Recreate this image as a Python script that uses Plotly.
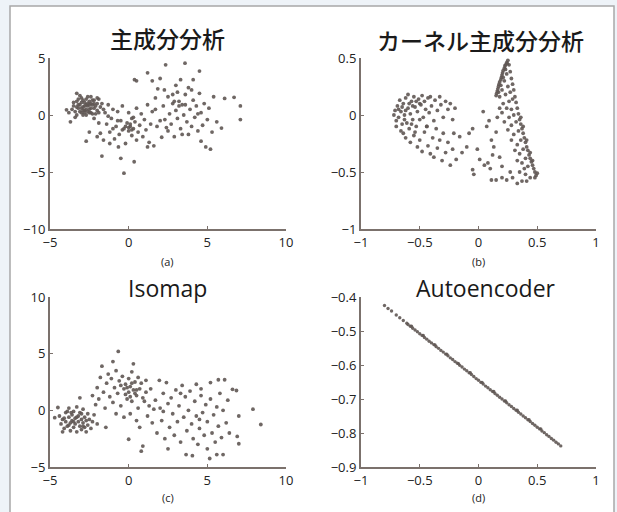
import plotly.graph_objects as go

W, H = 617, 512

# ---------------- data ----------------
titles = ["主成分分析", "カーネル主成分分析", "Isomap", "Autoencoder"]
sub_labels = ["(a)", "(b)", "(c)", "(d)"]

pca_points = [
    (-3.5,0.8),(-3.4,0.3),(-3.3,1.2),(-3.2,0.6),(-3.1,0.9),(-3.0,1.5),(-3.0,0.2),(-2.9,0.7),(-2.8,1.1),(-2.8,0.4),
    (-2.7,1.4),(-2.7,0.0),(-2.6,0.8),(-2.5,1.2),(-2.5,0.5),(-2.4,1.6),(-2.4,0.2),(-2.3,0.9),(-2.2,1.3),(-2.2,0.6),
    (-2.1,0.1),(-2.0,1.0),(-2.0,0.4),(-1.9,1.4),(-1.8,0.7),(-3.6,0.5),(-3.5,1.1),(-3.3,0.0),(-3.2,1.4),(-3.1,0.3),
    (-3.0,1.1),(-2.9,0.0),(-2.9,1.3),(-2.8,0.8),(-2.7,0.5),(-2.6,1.6),(-2.6,0.3),(-2.5,0.9),(-2.4,0.6),(-2.3,1.3),
    (-2.3,0.1),(-2.1,0.8),(-2.0,1.5),(-1.9,0.2),(-1.7,1.0),(-3.4,-0.2),(-3.8,0.2),(-3.1,1.7),(-2.2,-0.3),(-1.6,0.5),
    (-3.3,0.7),(-3.0,0.6),(-2.8,0.2),(-2.6,1.0),(-2.4,1.0),(-2.9,0.4),(-3.2,0.9),(-2.5,0.2),(-2.7,0.9),(-2.2,1.0),
    (-1.5,0.2),(-1.4,-0.8),(-1.3,0.9),(-1.2,-1.5),(-1.1,-0.3),(-1.0,0.5),(-0.9,-2.1),(-0.8,-1.0),(-0.7,0.3),(-0.6,-1.7),
    (-0.5,-0.5),(-0.4,0.8),(-0.3,-1.2),(-0.2,-2.5),(-0.1,-0.7),(0.0,-1.4),(0.0,0.2),(0.1,-1.0),(0.2,-1.8),(0.2,-0.3),
    (0.3,-1.2),(0.4,-0.6),(0.5,-2.2),(0.5,0.6),(0.6,-1.5),(0.7,-0.9),(0.8,0.1),(0.9,-1.9),(1.0,-0.4),(1.1,-1.3),
    (1.2,0.9),(1.3,-2.4),(1.4,-0.8),(1.5,0.3),(-1.8,-1.6),(-1.6,-2.2),(-2.0,-1.9),(-2.5,-1.5),(-2.7,-2.3),(-1.7,-3.6),
    (-1.2,-2.5),(-0.65,-2.8),(-0.5,-3.8),(-0.3,-5.1),(0.35,-4.1),(1.2,-2.8),(1.6,-2.7),(-0.2,-1.0),(0.1,-0.8),(-0.4,-1.3),
    (0.3,-0.2),(-1.0,-1.2),(-0.7,-0.5),(-3.7,-0.6),(-3.95,0.45),(-3.3,1.9),(-1.9,-0.7),(-1.3,-0.1),(0.0,-1.1),(0.2,-1.3),
    (1.7,1.5),(1.85,2.3),(2.0,-0.5),(2.1,-1.95),(2.2,0.8),(2.27,2.2),(2.35,4.4),(2.4,-1.1),(2.5,1.6),(2.6,0.1),
    (2.7,-0.8),(2.8,1.0),(2.9,-1.9),(3.0,2.6),(3.0,0.4),(3.1,-0.3),(3.2,1.2),(3.3,3.1),(3.3,-1.2),(3.4,-1.7),
    (3.4,0.9),(3.5,0.0),(3.58,4.55),(3.6,1.8),(3.7,-0.6),(3.8,-1.7),(3.8,2.4),(3.9,0.5),(4.0,2.2),(4.0,-1.0),
    (4.1,3.1),(4.1,1.3),(4.2,-0.2),(4.3,0.8),(4.4,-1.4),(4.5,3.85),(4.5,1.9),(4.6,-2.3),(4.6,0.2),(4.7,-0.9),
    (4.8,1.0),(4.9,-2.8),(5.0,-0.4),(5.1,0.6),(5.2,-3.0),(5.3,-1.5),(5.4,1.6),(5.6,-0.6),(5.9,-1.15),(6.1,1.45),
    (6.7,1.55),(7.1,0.8),(7.1,-0.4),(0.37,3.1),(0.5,3.0),(1.2,3.7),(1.5,3.0),(2.0,3.2),(2.8,1.8),(2.3,-0.4),
    (1.8,-1.0),(1.7,0.5),(3.2,0.8),(2.9,1.2),(3.6,0.9),(4.4,0.1),(3.1,2.0),(2.5,-1.4),
]

kpca_points = [
    (-0.72,0.0),(-0.71,0.04),(-0.70,-0.05),(-0.69,0.08),(-0.68,-0.02),(-0.67,0.13),(-0.66,0.03),(-0.65,-0.08),(-0.64,0.1),(-0.63,0.0),
    (-0.62,0.15),(-0.61,-0.07),(-0.60,0.06),(-0.59,-0.12),(-0.58,0.01),(-0.57,0.12),(-0.56,-0.04),(-0.55,0.16),(-0.54,0.07),(-0.53,-0.1),
    (-0.52,0.03),(-0.51,0.14),(-0.50,-0.04),(-0.49,0.09),(-0.48,0.17),(-0.47,-0.02),(-0.46,0.12),(-0.45,0.05),(-0.44,-0.1),(-0.43,0.15),
    (-0.42,0.02),(-0.41,0.16),(-0.40,0.08),(-0.38,-0.05),(-0.37,0.13),(-0.35,0.04),(-0.33,0.16),(-0.32,0.09),(-0.30,-0.02),(-0.28,0.12),
    (-0.26,0.05),(-0.24,0.1),(-0.22,-0.04),(-0.20,0.06),(-0.7,-0.1),(-0.66,-0.14),(-0.64,-0.16),(-0.6,0.18),(-0.57,-0.08),(-0.54,-0.15),
    (-0.68,0.05),(-0.65,0.07),(-0.62,0.04),(-0.59,0.1),(-0.56,0.08),(-0.53,0.12),(-0.5,0.1),(-0.63,-0.04),
    (-0.62,-0.2),(-0.58,-0.24),(-0.55,-0.18),(-0.52,-0.28),(-0.5,-0.22),(-0.48,-0.32),(-0.46,-0.15),(-0.44,-0.1),(-0.43,-0.27),(-0.41,-0.34),
    (-0.39,-0.2),(-0.38,-0.37),(-0.36,-0.12),(-0.35,-0.29),(-0.33,-0.22),(-0.31,-0.4),(-0.3,-0.16),(-0.28,-0.33),(-0.26,-0.24),(-0.24,-0.44),
    (-0.22,-0.3),(-0.21,-0.16),(-0.19,-0.39),(-0.16,-0.19),(-0.14,-0.33),(-0.1,-0.28),(-0.08,-0.16),(-0.05,-0.12),(-0.05,-0.48),(-0.04,-0.52),
    (0.04,0.03),(0.07,-0.1),(0.01,-0.39),(0.08,-0.42),(0.11,-0.22),(0.13,-0.28),(0.18,-0.37),(0.2,-0.45),(0.12,-0.35),(0.05,-0.44),
    (0.1,-0.47),(-0.01,-0.3),(0.15,-0.15),(0.09,-0.05),
    (0.11,-0.57),(0.15,-0.57),(0.2,-0.55),(0.24,-0.57),(0.29,-0.55),(0.33,-0.6),(0.37,-0.58),(0.41,-0.58),(0.44,-0.55),(0.27,-0.5),
    (0.35,-0.5),(0.4,-0.52),
    (0.15,0.17),(0.155,0.19),(0.16,0.21),(0.165,0.23),(0.17,0.25),(0.175,0.27),(0.18,0.29),(0.19,0.31),(0.195,0.33),(0.2,0.35),
    (0.205,0.37),(0.21,0.39),(0.22,0.41),(0.225,0.43),(0.23,0.44),(0.24,0.46),(0.25,0.48),(0.17,0.2),(0.19,0.26),(0.21,0.33),
    (0.23,0.4),(0.245,0.45),(0.18,0.16),(0.2,0.22),
    (0.26,0.44),(0.27,0.38),(0.28,0.32),(0.29,0.27),(0.3,0.22),(0.31,0.16),(0.32,0.11),(0.33,0.06),(0.34,0.01),(0.35,-0.04),
    (0.36,-0.08),(0.37,-0.12),(0.38,-0.16),(0.39,-0.2),(0.4,-0.24),(0.41,-0.28),(0.42,-0.31),(0.43,-0.35),(0.44,-0.38),(0.45,-0.41),
    (0.46,-0.44),(0.47,-0.47),(0.48,-0.5),(0.49,-0.53),(0.5,-0.51),(0.48,-0.55),(0.36,-0.02),(0.38,-0.1),(0.41,-0.22),(0.44,-0.33),
    (0.46,-0.4),
    (0.22,0.3),(0.24,0.36),(0.25,0.25),(0.23,0.18),(0.26,0.12),(0.21,0.1),(0.28,0.05),(0.24,0.06),(0.3,0.0),(0.26,-0.02),
    (0.2,0.02),(0.32,-0.06),(0.28,-0.09),(0.22,-0.06),(0.34,-0.14),(0.3,-0.17),(0.25,-0.13),(0.36,-0.22),(0.33,-0.26),(0.28,-0.22),
    (0.38,-0.3),(0.35,-0.34),(0.31,-0.31),(0.4,-0.38),(0.37,-0.42),(0.33,-0.4),(0.42,-0.45),(0.39,-0.47),(0.27,0.2),(0.29,0.14),
    (0.18,0.06),(0.16,-0.02),
]

isomap_points = [
    (-4.4,-0.5),(-4.3,-1.2),(-4.2,-0.8),(-4.1,-1.6),(-4.0,-0.2),(-4.0,-1.0),(-3.9,-1.4),(-3.8,-0.6),(-3.8,0.2),(-3.7,-1.1),
    (-3.7,-1.8),(-3.6,-0.4),(-3.6,-0.9),(-3.5,-1.5),(-3.5,-0.1),(-3.4,-0.7),(-3.4,-1.2),(-3.3,-1.9),(-3.3,0.3),(-3.2,-0.5),
    (-3.2,-1.0),(-3.1,-1.4),(-3.1,-0.2),(-3.0,-0.8),(-3.0,-1.7),(-2.9,-1.1),(-2.9,0.1),(-2.8,-0.6),(-2.8,-1.5),(-2.7,-0.9),
    (-2.6,-1.3),(-2.6,-0.3),(-2.5,-0.8),(-2.4,-1.6),(-2.3,-1.0),(-2.2,-0.4),(-4.5,0.25),(-4.7,-0.65),(-3.1,1.1),(-3.65,-0.2),
    (-2.0,-1.2),(-4.2,-1.9),(-3.9,-0.1),(-3.0,-0.3),(-2.7,-1.9),(-3.5,-1.0),(-3.3,-0.6),(-3.8,-1.3),(-4.1,-0.7),(-2.9,-1.4),
    (-2.3,1.3),(-2.1,0.5),(-2.0,2.0),(-1.9,1.0),(-1.8,2.9),(-1.7,3.9),(-1.6,1.6),(-1.5,0.2),(-1.4,2.4),(-1.3,3.2),
    (-1.2,1.2),(-1.1,2.8),(-1.0,4.3),(-1.0,0.7),(-0.9,2.0),(-0.8,3.5),(-0.7,1.5),(-0.66,5.2),(-0.6,2.6),(-0.5,0.4),
    (-0.4,3.0),(-0.3,1.9),(-0.2,2.3),(-0.1,1.0),(0.0,2.8),(0.0,1.6),(0.1,2.1),(0.2,3.4),(0.2,0.8),(0.3,4.1),
    (0.3,1.8),(0.4,2.5),(0.5,1.3),(0.6,2.9),(0.6,0.2),(0.7,1.9),(0.8,2.4),(0.9,1.1),(1.0,0.8),(1.1,2.65),
    (1.1,1.6),(1.3,0.4),(1.4,1.9),(-0.2,1.4),(0.4,1.5),(-0.5,2.2),(0.1,-0.3),(-0.3,-0.6),(0.5,-0.9),(0.0,-2.55),
    (0.9,-3.15),(0.8,-3.6),(-1.45,-1.5),(0.7,-1.5),(1.2,-0.5),(-0.8,-0.3),(0.1,1.2),(-0.1,2.0),(0.2,2.4),(0.5,1.8),
    (1.5,-1.1),(1.7,0.9),(1.8,-2.0),(1.95,2.65),(2.0,0.2),(2.1,-0.9),(2.2,1.5),(2.3,-2.5),(2.4,2.45),(2.5,-3.4),
    (2.5,0.6),(2.6,-1.5),(2.7,1.1),(2.8,-0.3),(2.9,-2.2),(3.0,1.8),(3.1,-1.0),(3.2,0.4),(3.3,-2.8),(3.4,2.2),
    (3.5,-0.6),(3.6,1.2),(3.65,-3.9),(3.7,-1.8),(3.8,0.0),(3.9,1.7),(4.0,-1.2),(4.05,-4.0),(4.1,-2.5),(4.2,0.8),
    (4.3,2.3),(4.3,-0.5),(4.4,-3.0),(4.5,-1.6),(4.6,1.3),(4.7,-0.2),(4.8,-2.2),(4.9,0.5),(5.0,-3.4),(5.0,-1.0),
    (5.15,-4.25),(5.2,2.45),(5.2,1.0),(5.3,-2.0),(5.4,-0.4),(5.5,-2.8),(5.6,-3.9),(5.6,0.3),(5.7,2.7),(5.7,-1.4),
    (5.8,1.5),(5.9,-2.4),(6.0,-3.9),(6.0,0.0),(6.1,2.7),(6.2,-1.1),(6.3,0.9),(6.4,-2.0),(6.6,1.85),(6.85,1.75),
    (6.9,-2.3),(7.0,-2.95),(7.0,-0.5),(7.9,0.1),(8.4,-1.25),(4.6,1.9),(3.3,1.5),(2.2,-0.1),(1.6,0.1),(4.5,-0.8),
]

ae_x = [-0.80,-0.77,-0.74,-0.70,-0.67,-0.64,-0.61,-0.60,-0.58,-0.56,-0.54,-0.52,-0.50,-0.48,-0.46,-0.44,-0.42,-0.40,
        -0.38,-0.36,-0.34,-0.32,-0.30,-0.28,-0.26,-0.24,-0.22,-0.20,-0.18,-0.16,-0.14,-0.12,-0.10,-0.08,-0.06,-0.04,
        -0.02,0.00,0.02,0.04,0.06,0.08,0.10,0.12,0.14,0.16,0.18,0.20,0.22,0.24,0.26,0.28,0.30,0.32,0.34,0.36,0.38,
        0.40,0.42,0.44,0.46,0.48,0.50,0.52,0.54,0.56,0.58,0.60,0.62,0.64,0.66,0.68,0.70,-0.57,-0.47,-0.37,-0.27,
        -0.17,-0.07,0.03,0.13,0.23,0.33,0.43,0.53]
ae_y = [-0.425,-0.434,-0.441,-0.453,-0.461,-0.469,-0.477,-0.481,-0.486,-0.492,-0.497,-0.502,-0.508,-0.513,-0.519,
        -0.524,-0.530,-0.535,-0.540,-0.546,-0.551,-0.557,-0.562,-0.568,-0.573,-0.579,-0.584,-0.590,-0.595,-0.601,
        -0.606,-0.612,-0.617,-0.623,-0.628,-0.634,-0.640,-0.645,-0.651,-0.656,-0.662,-0.667,-0.673,-0.678,-0.684,
        -0.689,-0.695,-0.700,-0.706,-0.711,-0.717,-0.722,-0.728,-0.733,-0.739,-0.744,-0.750,-0.755,-0.761,-0.766,
        -0.772,-0.777,-0.783,-0.788,-0.794,-0.799,-0.805,-0.810,-0.816,-0.821,-0.827,-0.832,-0.838,-0.486,-0.513,
        -0.541,-0.568,-0.596,-0.623,-0.651,-0.678,-0.706,-0.733,-0.761,-0.788]

x_ranges = [[-5, 10], [-1, 1], [-5, 10], [-1, 1]]
y_ranges = [[-10, 5], [-1, 0.5], [-5, 10], [-0.9, -0.4]]
x_ticks = [[-5, 0, 5, 10], [-1, -0.5, 0, 0.5, 1], [-5, 0, 5, 10], [-1, -0.5, 0, 0.5, 1]]
y_ticks = [[-10, -5, 0, 5], [-1, -0.5, 0, 0.5], [-5, 0, 5, 10], [-0.9, -0.8, -0.7, -0.6, -0.5, -0.4]]

# ---------------- figure ----------------
def px_x(p):
    return p / W

def px_y(p):
    return 1 - p / H

x_dom = [[px_x(50), px_x(286)], [px_x(361), px_x(596)], [px_x(50), px_x(286)], [px_x(361), px_x(596)]]
y_dom = [[px_y(229), px_y(58)], [px_y(229), px_y(58)], [px_y(467), px_y(297)], [px_y(467), px_y(297)]]

pt_color = "#5f5753"
axis_color = "#7b716c"
tick_font = dict(family="Open Sans, Noto Sans, sans-serif", size=13, color="#222222")

fig = go.Figure()

datasets = [
    ([p[0] for p in pca_points], [p[1] for p in pca_points]),
    ([p[0] for p in kpca_points], [p[1] for p in kpca_points]),
    ([p[0] for p in isomap_points], [p[1] for p in isomap_points]),
    (ae_x, ae_y),
]

for i, (xs, ys) in enumerate(datasets):
    sfx = "" if i == 0 else str(i + 1)
    fig.add_trace(go.Scatter(
        x=xs, y=ys, mode="markers",
        marker=dict(size=3.8 if i < 3 else 3.4, color=pt_color, opacity=0.9, line=dict(width=0)),
        xaxis="x" + sfx, yaxis="y" + sfx, showlegend=False, hoverinfo="skip",
    ))
    common = dict(showline=True, linecolor=axis_color, linewidth=2, showgrid=False, zeroline=False,
                  ticks="inside", ticklen=3, tickcolor=axis_color, tickwidth=1, tickfont=tick_font,
                  automargin=False)
    fig.layout["xaxis" + sfx] = dict(domain=x_dom[i], range=x_ranges[i], tickvals=x_ticks[i],
                                     anchor="y" + sfx, **common)
    fig.layout["yaxis" + sfx] = dict(domain=y_dom[i], range=y_ranges[i], tickvals=y_ticks[i],
                                     anchor="x" + sfx, **common)

title_pos = [(168, 38), (480, 40), (168, 288), (486, 288)]
label_pos = [(168, 261), (478, 261), (168, 497), (478, 497)]
annotations = []
for i in range(4):
    fam = "Noto Sans CJK JP, sans-serif" if i < 2 else "Open Sans, Noto Sans, sans-serif"
    annotations.append(dict(text=titles[i], x=px_x(title_pos[i][0]), y=px_y(title_pos[i][1]),
                            xref="paper", yref="paper", showarrow=False, xanchor="center", yanchor="middle",
                            font=dict(family=fam, size=23, color="#1a1a1a", weight=500)))
    annotations.append(dict(text=sub_labels[i], x=px_x(label_pos[i][0]), y=px_y(label_pos[i][1]),
                            xref="paper", yref="paper", showarrow=False, xanchor="center", yanchor="middle",
                            font=dict(family="Open Sans, Noto Sans, sans-serif", size=11, color="#222222")))

fig.update_layout(
    width=W, height=H, autosize=False,
    margin=dict(l=0, r=0, t=0, b=0),
    paper_bgcolor="#eef3f8", plot_bgcolor="rgba(0,0,0,0)",
    annotations=annotations,
    shapes=[dict(type="rect", xref="paper", yref="paper", layer="below",
                 x0=px_x(10), x1=px_x(614), y0=px_y(520), y1=px_y(6),
                 fillcolor="#ffffff", line=dict(color="#a8a8a8", width=1.5))],
)

fig.write_html("out.html", config={"displayModeBar": False},
               post_script="document.body.style.margin='0';document.body.style.overflow='hidden';")
